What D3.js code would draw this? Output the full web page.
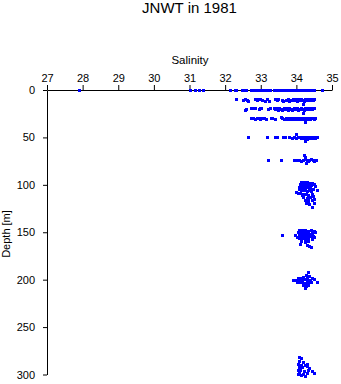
<!DOCTYPE html>
<html>
<head>
<meta charset="utf-8">
<script src="https://cdn.jsdelivr.net/npm/d3@7"></script>
<style>
  html, body { margin: 0; padding: 0; background: #fff; }
  svg { display: block; }
  text { font-family: "Liberation Sans", Arial, Helvetica, sans-serif; fill: #000; }
</style>
</head>
<body>
<svg id="chart" width="341" height="384"></svg>
<script>
// ---- Data (salinity, depth in m) ----
const title = "JNWT in 1981";
const xTicks = [27, 28, 29, 30, 31, 32, 33, 34, 35];
const yTicks = [0, 50, 100, 150, 200, 250, 300];

const surface = [
  [27.9,0],[31.03,0],[31.18,0],[31.27,0],[31.4,0],[32.14,0],[32.28,0],[32.33,0],[32.48,0],[32.52,0],
  [32.61,0],[32.73,0],[32.78,0],[32.82,0],[32.85,1],[32.88,0],[32.92,0],[32.95,1],[32.99,0],[33.02,0],
  [33.06,0],[33.1,1],[33.13,0],[33.17,0],[33.2,0],[33.24,1],[33.28,0],[33.38,0],[33.42,0],[33.45,1],
  [33.49,0],[33.53,0],[33.56,0],[33.6,1],[33.63,0],[33.67,0],[33.71,0],[33.74,1],[33.78,0],[33.82,0],
  [33.86,0],[33.9,1],[33.93,0],[33.97,0],[34.0,0],[34.04,1],[34.08,0],[34.12,0],[34.15,0],[34.19,1],
  [34.23,0],[34.27,0],[34.31,0],[34.35,1],[34.39,0],[34.43,0],[34.47,0],[34.51,1],[34.74,0]
];
const depth10 = [
  [32.31,10],[32.52,11],[32.56,10],[32.63,11],[32.67,12],[32.84,10],[32.88,10],[32.92,11],[32.96,10],
  [33.0,10],[33.04,11],[33.12,12],[33.2,10],[33.24,12],[33.42,10],[33.46,11],[33.5,10],[33.6,11],
  [33.64,12],[33.72,11],[33.77,10],[33.82,12],[33.86,11],[33.91,10],[33.95,11],[33.99,10],[34.03,12],
  [34.07,10],[34.11,11],[34.15,10],[34.19,11],[34.23,12],[34.27,10],[34.31,11],[34.35,10],[34.39,11],
  [34.43,10],[34.47,11],[34.51,10],[34.2,15]
];
const depth20 = [
  [32.58,22],[32.6,21],[32.75,20],[32.8,20],[32.84,20],[32.96,21],[33.0,20],[33.03,20],[33.22,21],
  [33.26,20],[33.38,20],[33.42,21],[33.46,20],[33.5,22],[33.54,20],[33.58,21],[33.62,22],[33.66,20],
  [33.7,21],[33.74,20],[33.78,22],[33.82,20],[33.86,21],[33.9,22],[33.94,20],[33.98,21],[34.02,20],
  [34.06,22],[34.1,21],[34.14,20],[34.18,21],[34.22,22],[34.26,20],[34.3,21],[34.34,20],[34.38,21],
  [34.42,20],[34.46,21],[34.5,20],[34.2,25]
];
const depth30 = [
  [32.75,30],[32.8,30],[32.86,31],[32.9,30],[32.96,30],[33.0,31],[33.05,30],[33.1,30],[33.16,31],
  [33.3,30],[33.34,30],[33.4,31],[33.58,29],[33.62,30],[33.68,31],[33.72,30],[33.76,31],[33.8,30],
  [33.84,31],[33.88,30],[33.92,31],[33.96,30],[34.0,31],[34.04,30],[34.08,31],[34.12,30],[34.16,31],
  [34.2,30],[34.24,31],[34.28,30],[34.32,31],[34.36,30],[34.4,31],[34.44,30],[34.5,31],[34.54,30],
  [34.25,34]
];
const depth50 = [
  [32.65,50],[33.18,50],[33.41,50],[33.46,50],[33.64,50],[33.7,50],[33.82,50],[33.88,51],[33.94,50],
  [34.0,51],[34.05,50],[34.1,50],[34.14,51],[34.18,50],[34.22,51],[34.26,50],[34.3,51],[34.34,50],
  [34.38,51],[34.42,50],[34.46,51],[34.5,50],[34.55,51],[34.6,50],[34.0,47],[34.25,54],[34.3,52]
];
const depth75 = [
  [33.21,74],[33.57,74],[33.96,74],[34.02,74],[34.08,74],[34.14,75],[34.2,74],[34.26,73],[34.3,74],
  [34.34,75],[34.38,74],[34.42,73],[34.47,74],[34.52,75],[34.56,74],[34.22,69],[34.25,71],[34.28,78]
];
const depth100 = [
  [34.15,98],[34.22,98],[34.3,98],[34.38,99],[34.45,99],[34.12,100],[34.2,101],[34.28,100],[34.35,101],
  [34.42,101],[34.5,100],[34.55,102],[34.1,103],[34.18,103],[34.25,104],[34.33,103],[34.4,104],[34.47,105],
  [34.15,106],[34.22,106],[34.3,107],[34.37,106],[34.58,106],[34.0,108],[34.05,109],[34.12,109],[34.2,110],
  [34.28,110],[34.35,111],[34.45,110],[34.2,113],[34.3,114],[34.4,113],[34.52,115],[34.25,117],[34.35,118],
  [34.45,117],[34.38,121],[34.5,120],[34.45,124],[34.26,102],[34.08,105],[34.43,107],[34.16,111],[34.33,115],
  [34.48,112],[34.28,120]
];
const depth150 = [
  [33.6,153],[34.1,148],[34.18,148],[34.26,148],[34.34,149],[34.42,148],[34.5,149],[34.05,150],[34.14,151],
  [34.22,151],[34.3,151],[34.38,152],[34.46,151],[34.55,150],[33.98,153],[34.08,153],[34.16,154],[34.24,154],
  [34.32,155],[34.4,154],[34.48,155],[34.1,157],[34.18,157],[34.26,158],[34.35,157],[34.44,158],[34.5,156],
  [34.15,160],[34.25,161],[34.35,160],[34.12,163],[34.3,164],[34.38,165],[34.42,166],[34.2,156],[34.3,159],
  [34.04,156]
];
const depth200 = [
  [34.33,192],[34.28,196],[34.38,197],[34.05,199],[34.12,199],[34.2,198],[34.3,199],[34.45,199],[33.92,201],
  [34.0,201],[34.08,201],[34.16,201],[34.24,200],[34.32,201],[34.4,201],[34.5,200],[34.1,203],[34.18,203],
  [34.26,204],[34.34,203],[34.58,203],[34.2,206],[34.28,207],[34.35,206],[34.25,209],[34.42,203],[34.02,203]
];
const depth300 = [
  [34.08,282],[34.15,283],[34.1,286],[34.2,287],[34.06,289],[34.14,290],[34.25,290],[34.32,289],[34.08,293],
  [34.18,293],[34.3,292],[34.38,294],[34.05,296],[34.12,296],[34.22,297],[34.35,296],[34.45,297],[34.1,299],
  [34.2,300],[34.3,299],[34.5,299],[34.15,301],[34.05,300],[34.25,302]
];

const points = [].concat(surface, depth10, depth20, depth30, depth50, depth75,
                         depth100, depth150, depth200, depth300);

// ---- Drawing ----
const svg = d3.select("#chart");
const x = d3.scaleLinear().domain([27, 35]).range([47, 332]);
const y = d3.scaleLinear().domain([0, 300]).range([90, 374.5]);

svg.append("text")
  .attr("x", 189.5).attr("y", 13)
  .attr("text-anchor", "middle")
  .style("font-size", "15px")
  .text(title);

svg.append("text")
  .attr("x", 190).attr("y", 64)
  .attr("text-anchor", "middle")
  .style("font-size", "11.5px")
  .text("Salinity");

svg.append("text")
  .attr("transform", "translate(9.5,234) rotate(-90)")
  .attr("text-anchor", "middle")
  .style("font-size", "11px")
  .text("Depth [m]");

const xAxis = svg.append("g")
  .attr("transform", "translate(0,90)")
  .call(d3.axisTop(x).tickValues(xTicks).tickSize(5).tickSizeOuter(0).tickPadding(3).tickFormat(d3.format("d")));
xAxis.selectAll("text").style("font-size", "11px").style("font-family", "'Liberation Sans', Arial, sans-serif");

const yAxis = svg.append("g")
  .attr("transform", "translate(47,0)")
  .call(d3.axisLeft(y).tickValues(yTicks).tickSize(4).tickSizeOuter(0).tickPadding(8).tickFormat(d3.format("d")));
yAxis.selectAll("text").style("font-size", "11px").style("font-family", "'Liberation Sans', Arial, sans-serif");

svg.selectAll(".domain, .tick line").attr("stroke", "#000").attr("stroke-width", 1);

svg.append("g")
  .selectAll("rect")
  .data(points)
  .join("rect")
  .attr("x", d => x(d[0]) - 1.5)
  .attr("y", d => y(d[1]) - 1.5)
  .attr("width", 3)
  .attr("height", 3)
  .attr("fill", "#0000ff")
  .attr("shape-rendering", "crispEdges");
</script>
</body>
</html>
